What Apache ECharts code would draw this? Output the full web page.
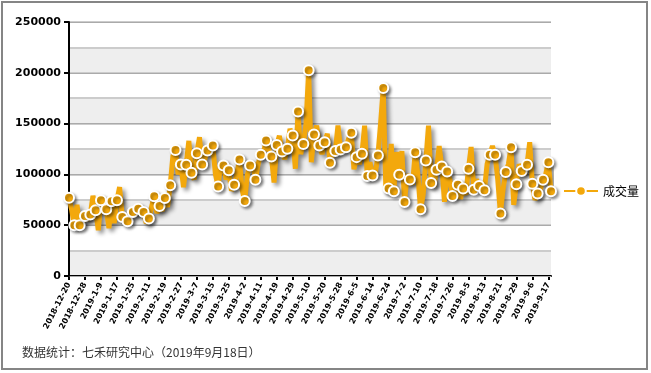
<!DOCTYPE html>
<html>
<head>
<meta charset="utf-8">
<script src="https://cdn.jsdelivr.net/npm/echarts@6/dist/echarts.min.js"></script>
<style>
html,body{margin:0;padding:0;background:#fff;}
#c{width:651px;height:373px;}
</style>
</head>
<body>
<div id="c"></div>
<script>
var categories = [
"2018-12-20","2018-12-21","2018-12-24","2018-12-25","2018-12-26","2018-12-27","2018-12-28",
"2019-1-2","2019-1-3","2019-1-4","2019-1-7","2019-1-8","2019-1-9","2019-1-10","2019-1-11","2019-1-14","2019-1-15","2019-1-16","2019-1-17","2019-1-18","2019-1-21","2019-1-22","2019-1-23","2019-1-24","2019-1-25","2019-1-28","2019-1-29","2019-1-30","2019-1-31","2019-2-1",
"2019-2-11","2019-2-12","2019-2-13","2019-2-14","2019-2-15","2019-2-18","2019-2-19","2019-2-20","2019-2-21","2019-2-22","2019-2-25","2019-2-26","2019-2-27","2019-2-28",
"2019-3-1","2019-3-4","2019-3-5","2019-3-6","2019-3-7","2019-3-8","2019-3-11","2019-3-12","2019-3-13","2019-3-14","2019-3-15","2019-3-18","2019-3-19","2019-3-20","2019-3-21","2019-3-22","2019-3-25","2019-3-26","2019-3-27","2019-3-28","2019-3-29",
"2019-4-1","2019-4-2","2019-4-3","2019-4-4","2019-4-8","2019-4-9","2019-4-10","2019-4-11","2019-4-12","2019-4-15","2019-4-16","2019-4-17","2019-4-18","2019-4-19","2019-4-22","2019-4-23","2019-4-24","2019-4-25","2019-4-26","2019-4-29","2019-4-30",
"2019-5-6","2019-5-7","2019-5-8","2019-5-9","2019-5-10","2019-5-13","2019-5-14","2019-5-15","2019-5-16","2019-5-17","2019-5-20","2019-5-21","2019-5-22","2019-5-23","2019-5-24","2019-5-27","2019-5-28","2019-5-29","2019-5-30","2019-5-31",
"2019-6-3","2019-6-4","2019-6-5","2019-6-6","2019-6-10","2019-6-11","2019-6-12","2019-6-13","2019-6-14","2019-6-17","2019-6-18","2019-6-19","2019-6-20","2019-6-21","2019-6-24","2019-6-25","2019-6-26","2019-6-27","2019-6-28",
"2019-7-1","2019-7-2","2019-7-3","2019-7-4","2019-7-5","2019-7-8","2019-7-9","2019-7-10","2019-7-11","2019-7-12","2019-7-15","2019-7-16","2019-7-17","2019-7-18","2019-7-19","2019-7-22","2019-7-23","2019-7-24","2019-7-25","2019-7-26","2019-7-29","2019-7-30","2019-7-31",
"2019-8-1","2019-8-2","2019-8-5","2019-8-6","2019-8-7","2019-8-8","2019-8-9","2019-8-12","2019-8-13","2019-8-14","2019-8-15","2019-8-16","2019-8-19","2019-8-20","2019-8-21","2019-8-22","2019-8-23","2019-8-26","2019-8-27","2019-8-28","2019-8-29","2019-8-30",
"2019-9-2","2019-9-3","2019-9-4","2019-9-5","2019-9-6","2019-9-9","2019-9-10","2019-9-11","2019-9-12","2019-9-16","2019-9-17","2019-9-18"
];

var volume = [
77000,65000,50000,70000,50000,52000,59000,55000,60500,79000,
64700,45000,74500,68000,65700,47000,73500,52000,74500,87500,
58000,56000,54000,58000,63000,60000,66300,62000,63000,52000,
56500,68000,78400,62000,69000,64000,76800,68000,89200,118000,
124000,100000,109800,87500,109500,133000,101600,95000,120900,136600,
109800,115000,123500,130000,128400,100000,88200,112000,108800,95000,
104000,84000,89900,100000,114700,85000,73800,100000,108800,112000,
94800,110000,119300,120000,133300,125000,117600,92000,129000,138000,
122500,115000,125200,144800,138200,105600,161800,120000,130000,150000,
202600,112000,139200,148000,128400,120000,131700,140000,111500,120000,
123000,148000,124500,130000,126800,135000,140900,105000,117000,110000,
120300,148000,98400,112000,99000,100000,118600,150000,185000,84000,
86000,130000,83300,122000,99700,123000,72900,100000,95000,90000,
121900,100000,65700,80000,113700,148000,91500,88000,104600,128000,
107800,73000,102900,95000,78700,80000,89900,76000,86000,80000,
105600,127000,85000,95000,88500,90000,84300,110000,119300,128000,
119300,95000,61500,85000,102300,110000,126800,70000,90200,110000,
103300,100000,109500,131700,90900,75000,81100,85000,94800,100000,
112000,83300
];

var yTicks = [0, 50000, 100000, 150000, 200000, 250000];
var seriesName = "成交量";
var footnote = "数据统计：七禾研究中心（2019年9月18日）";

var ORANGE = "#F3A80C";
var lastIdx = volume.length - 1;

var chart = echarts.init(document.getElementById('c'), null, {renderer: 'canvas'});
chart.setOption({
  animation: false,
  backgroundColor: '#ffffff',
  grid: {left: 69, right: 100, top: 22, bottom: 97, containLabel: false},
  graphic: [
    {type: 'rect', shape: {x: 2, y: 2, width: 645, height: 367}, style: {fill: 'none', stroke: '#858585', lineWidth: 2}, z: 100},
    {type: 'text', left: 22, top: 346, style: {text: footnote, font: '12px "Noto Sans CJK SC", sans-serif', fill: '#333333'}}
  ],
  legend: {
    data: [seriesName],
    orient: 'vertical',
    left: 558, top: 180,
    itemWidth: 34, itemHeight: 12,
    itemGap: 4,
    textStyle: {fontFamily: '"Noto Sans CJK SC", sans-serif', fontSize: 12, color: '#000'}
  },
  xAxis: {
    type: 'category',
    data: categories,
    boundaryGap: false,
    axisLine: {show: true, lineStyle: {color: '#000', width: 2}},
    axisTick: {show: true, interval: 5, length: 4, lineStyle: {color: '#000', width: 2}},
    axisLabel: {interval: 5, rotate: 63, margin: 7, color: '#000', fontFamily: '"DejaVu Sans", sans-serif', fontWeight: 'bold', fontSize: 8},
    splitLine: {show: false}
  },
  yAxis: [
    {
      type: 'value', min: yTicks[0], max: yTicks[yTicks.length - 1], interval: yTicks[1] - yTicks[0],
      z: 2,
      axisLine: {show: true, lineStyle: {color: '#000', width: 2}},
      axisTick: {show: true, length: 5, lineStyle: {color: '#000', width: 2}},
      axisLabel: {margin: 8, color: '#000', fontFamily: '"DejaVu Sans", sans-serif', fontWeight: 'bold', fontSize: 11,
        formatter: function (v) { return String(v); }},
      splitLine: {show: true, lineStyle: {color: '#aaaaaa', width: 1}},
      splitArea: {show: false}
    },
    {
      type: 'value', min: yTicks[0], max: yTicks[yTicks.length - 1], interval: (yTicks[1] - yTicks[0]) / 2,
      z: 0,
      axisLine: {show: false}, axisTick: {show: false}, axisLabel: {show: false},
      splitLine: {show: true, lineStyle: {color: '#cccccc', width: 2}},
      splitArea: {show: true, areaStyle: {color: ['#eeeeee', '#ffffff']}}
    }
  ],
  series: [{
    name: seriesName,
    type: 'line',
    data: volume,
    yAxisIndex: 0,
    showAllSymbol: true,
    symbol: 'circle',
    symbolSize: function (v, p) { return (p.dataIndex % 2 === 0 || p.dataIndex === lastIdx) ? 10 : 0; },
    lineStyle: {color: ORANGE, width: 5, shadowColor: 'rgba(0,0,0,0.45)', shadowBlur: 4, shadowOffsetX: 3, shadowOffsetY: 3},
    itemStyle: {color: ORANGE, borderColor: '#ffffff', borderWidth: 2, shadowColor: 'rgba(0,0,0,0.4)', shadowBlur: 3, shadowOffsetX: 2, shadowOffsetY: 2},
    emphasis: {disabled: true},
    z: 3
  }]
});
</script>
</body>
</html>
